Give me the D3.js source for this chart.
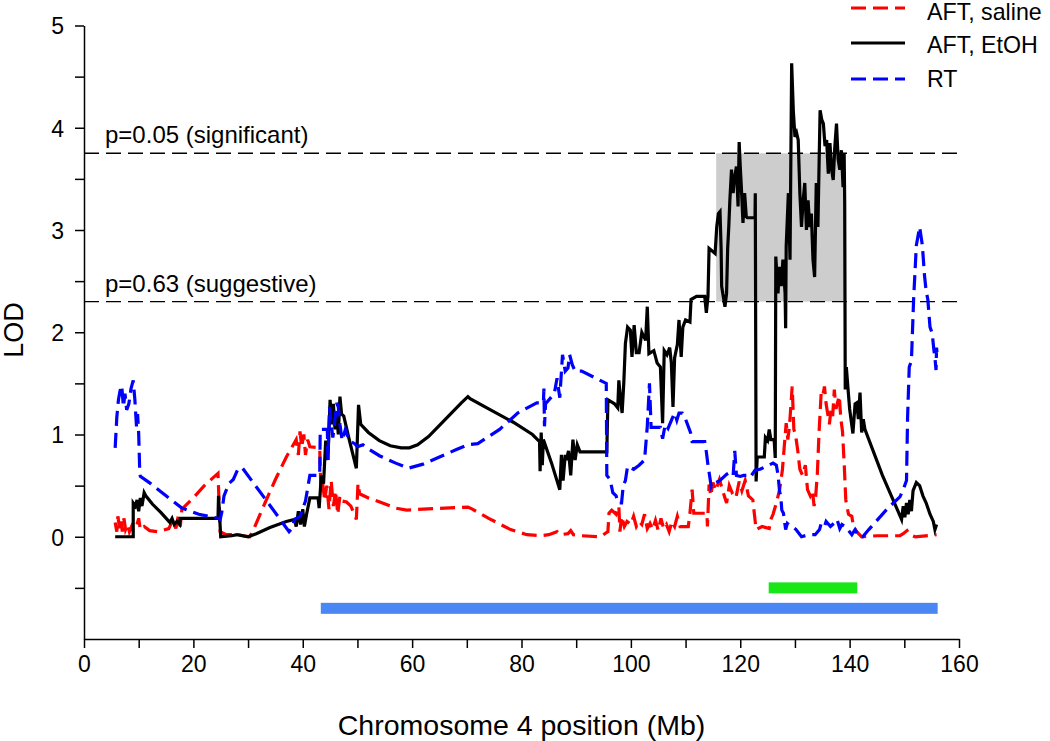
<!DOCTYPE html>
<html>
<head>
<meta charset="utf-8">
<script src="https://cdn.jsdelivr.net/npm/d3@7"></script>
<style>
  html, body { margin: 0; padding: 0; background: #fff; }
  svg { display: block; font-family: "Liberation Sans", Arial, sans-serif; }
</style>
</head>
<body>
<svg id="chart" width="1050" height="741"></svg>
<script>
// ---------------- DATA ----------------
const seriesNames = ["AFT, saline", "AFT, EtOH", "RT"];

const xTicks = [0, 10, 20, 30, 40, 50, 60, 70, 80, 90, 100, 110, 120, 130, 140, 150, 160];
const xTickLabels = ["0", "", "20", "", "40", "", "60", "", "80", "", "100", "", "120", "", "140", "", "160"];
const yTicks = [-0.5, 0, 0.5, 1, 1.5, 2, 2.5, 3, 3.5, 4, 4.5, 5];
const yTickLabels = ["", "0", "", "1", "", "2", "", "3", "", "4", "", "5"];

const thresholdValues = [3.75, 2.3];
const thresholdLabels = ["p=0.05 (significant)", "p=0.63 (suggestive)"];

const ciBox = [115.6, 139.1, 2.3, 3.75];          // x0, x1, y0, y1 (Mb, LOD)
const barStarts = [125.2, 43.3];
const barEnds = [141.4, 156.1];
const barLevels = [-0.5, -0.7];

// AFT, EtOH (black, solid)
const etohPos = [5.7,9.0,9.0,9.4,9.7,10.0,10.3,10.6,11.0,11.3,12.5,14.0,15.7,16.1,16.5,17.0,17.5,17.6,20.0,24.5,24.6,24.8,25.0,27.0,28.0,30.0,31.5,34.0,37.0,38.5,38.8,39.2,39.6,40.0,40.3,40.7,41.3,42.8,43.0,43.4,43.8,44.2,44.6,45.0,45.3,45.6,45.9,46.2,46.5,46.8,47.1,47.5,48.5,49.8,50.2,50.6,52.0,54.0,56.0,58.0,59.5,61.0,63.0,65.0,67.0,69.0,70.2,70.6,74.0,78.5,82.0,83.3,83.4,83.6,83.8,84.0,85.5,87.0,87.3,87.6,88.0,88.2,88.6,89.0,89.4,89.8,90.2,90.7,95.6,95.8,97.0,97.6,97.8,98.1,98.4,98.7,99.0,99.4,99.9,100.2,100.6,101.0,101.5,102.0,102.7,103.0,103.3,104.2,104.8,105.4,105.8,106.1,106.6,107.1,107.4,107.7,108.0,108.5,108.8,109.2,109.5,110.0,110.8,111.0,112.0,113.5,113.8,114.1,114.3,115.4,115.7,116.0,116.3,116.5,116.6,117.2,117.5,117.7,117.9,118.1,118.4,118.7,118.9,119.3,119.6,119.8,120.0,120.2,120.5,120.8,121.1,121.3,122.7,122.75,122.9,123.1,124.4,124.6,125.0,125.3,125.6,126.2,126.4,126.5,126.9,127.2,127.5,127.8,128.2,128.3,128.4,128.8,129.1,129.4,129.7,130.0,130.3,130.6,130.9,131.2,131.5,131.8,132.1,132.4,132.7,133.0,133.3,133.6,133.9,134.2,134.6,134.9,135.2,135.5,135.8,136.1,136.4,136.7,137.0,137.3,137.6,137.9,138.2,138.5,138.8,139.0,139.1,139.2,139.4,139.7,140.0,140.6,141.0,141.3,141.6,141.9,142.2,142.5,142.8,146.0,149.5,149.8,150.1,150.4,150.7,151.0,151.3,151.6,152.2,152.8,153.4,154.0,154.7,155.3,155.6,155.9];
const etohLod = [0,0,0.33,0.30,0.36,0.25,0.38,0.30,0.43,0.40,0.32,0.24,0.14,0.18,0.12,0.15,0.12,0.18,0.18,0.18,0.40,0.20,0.0,0.01,0.02,0.0,0.03,0.09,0.15,0.17,0.10,0.25,0.12,0.27,0.10,0.22,0.38,0.38,0.28,0.60,0.52,0.94,0.75,1.34,1.10,1.30,1.05,1.22,1.00,1.37,1.20,1.18,0.95,0.67,1.29,1.10,1.02,0.94,0.89,0.87,0.87,0.90,0.98,1.09,1.20,1.31,1.37,1.35,1.25,1.12,1.00,0.93,0.64,1.02,0.70,0.95,0.72,0.46,0.80,0.55,0.80,0.75,0.84,0.60,0.95,0.75,0.90,0.83,0.83,1.34,1.30,1.26,1.53,1.35,1.21,1.50,1.89,2.05,2.02,1.76,2.07,1.80,1.80,2.00,1.92,2.25,1.79,1.82,1.70,1.66,1.11,1.82,1.78,1.85,1.70,1.27,1.75,1.88,2.12,1.76,2.05,2.12,2.10,2.32,2.35,2.35,2.19,2.35,2.82,2.77,3.03,3.16,3.18,2.82,2.45,2.25,2.38,2.82,3.03,3.29,3.59,3.36,3.49,3.62,3.23,3.86,3.62,3.42,3.07,3.36,3.13,3.12,3.12,3.36,0.54,0.78,0.78,0.97,0.94,1.05,0.95,0.95,0.77,2.74,2.38,2.64,2.45,2.71,2.38,2.04,2.84,3.36,2.71,4.63,4.17,3.91,3.95,3.88,3.36,3.03,3.29,3.46,3.00,3.29,3.03,3.16,2.71,2.54,3.46,3.03,4.17,4.08,4.04,3.82,3.88,3.55,3.85,3.59,3.49,3.82,4.04,3.69,3.59,3.78,3.42,3.75,3.26,1.44,1.66,1.45,1.25,1.01,1.30,1.31,1.15,1.41,1.02,1.15,1.05,0.60,0.17,0.30,0.19,0.33,0.22,0.36,0.25,0.45,0.53,0.50,0.40,0.33,0.22,0.15,0.07,0.12];

// AFT, saline (red, dashed)
const salinePos = [5.7,6.0,6.2,6.5,6.8,7.0,7.3,7.6,8.0,8.3,8.7,9.0,9.5,10.0,10.3,11.0,12.0,13.5,15.5,16.3,16.8,17.3,17.6,17.9,20.0,22.0,24.5,24.9,26.0,28.0,30.3,31.0,33.0,35.0,37.0,38.8,39.2,39.5,39.8,40.2,40.5,40.9,41.3,43.1,43.3,43.6,44.0,44.4,44.8,45.2,45.6,46.0,46.4,46.8,47.2,48.0,48.8,49.8,50.1,50.4,52.0,54.1,57.0,59.0,62.0,66.0,70.2,71.0,74.0,78.0,81.0,83.4,85.0,86.5,87.0,88.5,89.0,89.5,91.0,94.4,95.8,96.0,96.5,97.3,97.8,98.0,98.3,98.8,99.3,100.0,100.5,101.0,101.5,102.0,102.5,103.0,103.5,104.0,104.5,105.0,105.5,106.0,106.5,107.0,107.5,108.0,108.5,109.0,110.5,110.8,111.2,111.5,113.9,114.0,114.3,114.6,115.0,115.5,116.2,116.8,117.5,118.0,118.6,119.2,119.8,120.3,120.9,121.5,122.3,122.9,124.0,125.3,125.6,126.0,126.6,127.2,127.7,128.0,128.4,128.7,129.0,129.5,129.8,130.1,130.5,130.9,131.4,131.9,132.3,132.8,133.2,133.5,133.8,134.1,134.4,134.8,135.1,135.4,135.7,136.0,136.3,136.6,136.9,137.2,137.5,138.1,138.4,138.7,139.0,139.3,139.5,139.8,140.4,140.7,141.3,142.2,145.0,149.2,149.8,150.5,151.0,152.0,155.9];
const salineLod = [0.14,0.05,0.20,0.08,0.15,0.05,0.18,0.07,0.12,0.05,0.10,0.06,0.08,0.18,0.07,0.10,0.06,0.05,0.08,0.17,0.08,0.22,0.10,0.27,0.38,0.50,0.62,0.05,0.02,0.02,0.0,0.07,0.32,0.56,0.78,0.95,0.80,1.03,0.88,1.00,0.80,0.95,0.88,0.87,0.49,0.55,0.35,0.50,0.27,0.55,0.30,0.45,0.22,0.40,0.35,0.34,0.30,0.17,0.52,0.42,0.38,0.34,0.28,0.26,0.27,0.28,0.29,0.27,0.18,0.07,0.02,0.01,0.02,0.05,0.02,0.03,0.06,0.02,0.01,0.0,0.05,0.23,0.26,0.22,0.30,0.05,0.20,0.10,0.15,0.12,0.20,0.10,0.15,0.12,0.22,0.08,0.13,0.07,0.16,0.06,0.18,0.08,0.12,0.05,0.15,0.10,0.20,0.10,0.10,0.23,0.46,0.23,0.23,0.10,0.51,0.40,0.53,0.45,0.56,0.45,0.33,0.50,0.42,0.38,0.54,0.45,0.55,0.40,0.36,0.07,0.10,0.08,0.17,0.22,0.33,0.46,0.65,0.85,1.11,0.95,1.08,1.47,1.05,1.00,0.85,0.66,0.60,0.70,0.46,0.40,0.45,0.30,0.40,0.62,1.01,1.41,1.38,1.47,1.30,1.20,1.10,1.25,1.18,1.44,1.25,1.38,1.15,1.03,0.72,0.36,0.30,0.22,0.20,0.10,0.05,0.0,0.01,0.01,0.03,0.06,0.02,0.0,0.02];

// RT (blue, dashed)
const rtPos = [5.7,6.0,6.3,6.6,6.9,7.2,7.5,7.8,8.2,8.6,9.0,9.3,9.6,9.8,10.0,10.2,10.3,12.2,15.0,17.9,21.0,24.5,24.9,25.2,25.6,26.5,27.3,27.8,28.2,29.0,33.0,37.5,38.0,38.5,39.5,40.5,41.3,43.1,43.2,44.5,44.6,44.9,45.2,45.5,45.8,46.2,46.5,46.8,47.2,47.8,48.5,49.5,50.0,51.0,52.0,54.1,57.0,59.3,62.0,65.0,68.0,70.2,72.0,76.0,79.3,82.8,84.0,84.1,84.2,84.4,86.0,86.5,87.0,87.5,88.0,88.5,88.8,89.3,89.8,91.0,95.5,95.6,96.2,96.7,97.3,97.6,98.3,98.6,99.0,99.4,100.5,101.5,102.5,103.0,103.4,103.7,105.4,105.8,106.3,106.8,107.5,108.0,108.4,108.8,109.4,110.0,110.9,111.2,113.5,113.8,114.1,114.7,115.0,115.6,116.3,116.9,117.5,118.1,118.7,119.0,119.3,120.0,120.6,121.2,121.8,122.7,123.6,124.8,126.0,126.6,126.9,127.2,127.4,127.6,127.9,128.3,128.6,129.0,129.5,130.2,131.2,132.5,133.7,134.5,134.8,135.4,135.7,136.5,137.1,137.7,138.2,138.6,139.2,140.4,141.0,141.7,142.4,143.5,147.0,149.2,149.8,150.4,150.6,150.9,151.3,151.7,152.2,152.8,153.3,153.7,154.0,154.3,154.7,155.1,155.4,155.6,155.8,155.9,156.0];
const rtLod = [0.87,1.17,1.34,1.43,1.48,1.27,1.40,1.24,1.30,1.45,1.53,1.34,1.08,1.20,1.01,0.62,0.59,0.52,0.40,0.28,0.22,0.18,0.17,0.24,0.40,0.52,0.56,0.62,0.67,0.67,0.38,0.05,0.08,0.17,0.20,0.35,0.60,0.60,1.05,1.05,0.75,1.27,1.10,0.97,1.10,1.31,1.27,1.10,0.94,1.05,0.94,0.91,0.88,0.90,0.86,0.79,0.72,0.67,0.71,0.78,0.85,0.90,0.91,1.05,1.21,1.31,1.31,1.45,1.08,1.30,1.40,1.55,1.36,1.78,1.62,1.65,1.78,1.68,1.62,1.62,1.50,0.60,0.56,0.43,0.40,0.33,0.33,0.50,0.55,0.69,0.66,0.70,0.75,1.08,1.50,1.07,1.07,0.96,1.10,1.06,1.15,1.21,1.14,1.21,1.21,1.15,1.02,0.93,0.93,0.83,0.70,0.49,0.52,0.53,0.55,0.58,0.61,0.63,0.60,0.84,0.60,0.59,0.60,0.60,0.58,0.65,0.66,0.69,0.72,0.70,0.61,0.44,0.40,0.26,0.23,0.07,0.13,0.11,0.10,0.07,0.0,0.02,0.02,0.07,0.13,0.10,0.15,0.10,0.13,0.17,0.08,0.12,0.10,0.02,0.07,0.0,0.0,0.07,0.28,0.39,0.46,0.55,1.17,1.66,1.72,2.32,2.85,3.03,2.85,2.55,2.40,2.32,2.05,1.99,1.83,1.75,1.63,1.85,1.78];

// ---------------- CHART ----------------
const svg = d3.select("#chart");
const FONT = '"Liberation Sans", Arial, sans-serif';

const x = d3.scaleLinear().domain([0, 160]).range([84, 959]);
const y = d3.scaleLinear().domain([-1, 5]).range([639, 25.5]);

// CI box
svg.append("rect")
  .attr("x", x(ciBox[0])).attr("y", y(ciBox[3]))
  .attr("width", x(ciBox[1]) - x(ciBox[0]))
  .attr("height", y(ciBox[2]) - y(ciBox[3]))
  .attr("fill", "#cdcdcd");

// Threshold lines
thresholdValues.forEach((v, i) => {
  svg.append("line")
    .attr("x1", x(0)).attr("x2", x(160))
    .attr("y1", y(v)).attr("y2", y(v))
    .attr("stroke", "#000").attr("stroke-width", 1.4)
    .attr("stroke-dasharray", "15,7");
  svg.append("text")
    .attr("x", 105).attr("y", y(v) - 10)
    .attr("font-size", 24).attr("fill", "#000")
    .text(thresholdLabels[i]);
});

// Colored interval bars
const barColors = ["#17e617", "#4a86f4"];
barStarts.forEach((s, i) => {
  svg.append("rect")
    .attr("x", x(s)).attr("width", x(barEnds[i]) - x(s))
    .attr("y", y(barLevels[i]) - 5.5).attr("height", 11)
    .attr("fill", barColors[i]);
});

// Lines
const mk = (pos, lod) => pos.map((p, i) => [p, lod[i]]);
const line = d3.line().x(d => x(d[0])).y(d => y(d[1]));

const series = [
  { name: seriesNames[0], data: mk(salinePos, salineLod), color: "#ff0000", dash: "15,7" },
  { name: seriesNames[1], data: mk(etohPos, etohLod), color: "#000000", dash: null },
  { name: seriesNames[2], data: mk(rtPos, rtLod), color: "#0000ff", dash: "15,7" }
];

series.forEach(s => {
  svg.append("path")
    .datum(s.data)
    .attr("d", line)
    .attr("fill", "none")
    .attr("stroke", s.color)
    .attr("stroke-width", 3.2)
    .attr("stroke-linejoin", "miter")
    .attr("stroke-dasharray", s.dash);
});

// Axes
const xAxis = d3.axisBottom(x).tickValues(xTicks)
  .tickFormat((d, i) => xTickLabels[i]).tickSize(9).tickSizeOuter(0).tickPadding(8);
const yAxis = d3.axisLeft(y).tickValues(yTicks)
  .tickFormat((d, i) => yTickLabels[i]).tickSize(9).tickSizeOuter(0).tickPadding(11);

const gx = svg.append("g").attr("transform", `translate(0,${y(-1)})`).call(xAxis);
const gy = svg.append("g").attr("transform", `translate(${x(0)},0)`).call(yAxis);
[gx, gy].forEach(g => {
  g.selectAll("path, line").attr("stroke", "#000").attr("stroke-width", 1.5);
  g.selectAll("text").attr("font-family", FONT).attr("font-size", 23).attr("fill", "#000");
});
gy.selectAll("text").attr("dy", "0.36em");

// Axis titles
svg.append("text")
  .attr("x", (x(0) + x(160)) / 2).attr("y", 735)
  .attr("text-anchor", "middle").attr("font-size", 28.5)
  .text("Chromosome 4 position (Mb)");
svg.append("text")
  .attr("transform", "translate(23,330) rotate(-90)")
  .attr("text-anchor", "middle").attr("font-size", 27)
  .text("LOD");

// Legend
const legLineY = [8, 43, 79];
const legTextY = [19.5, 53, 87];
series.forEach((s, i) => {
  svg.append("line")
    .attr("x1", 851).attr("x2", 905)
    .attr("y1", legLineY[i]).attr("y2", legLineY[i])
    .attr("stroke", s.color).attr("stroke-width", 3)
    .attr("stroke-dasharray", s.dash);
  svg.append("text")
    .attr("x", 927).attr("y", legTextY[i])
    .attr("font-size", 23.2).attr("fill", "#000")
    .text(s.name);
});
</script>
</body>
</html>
